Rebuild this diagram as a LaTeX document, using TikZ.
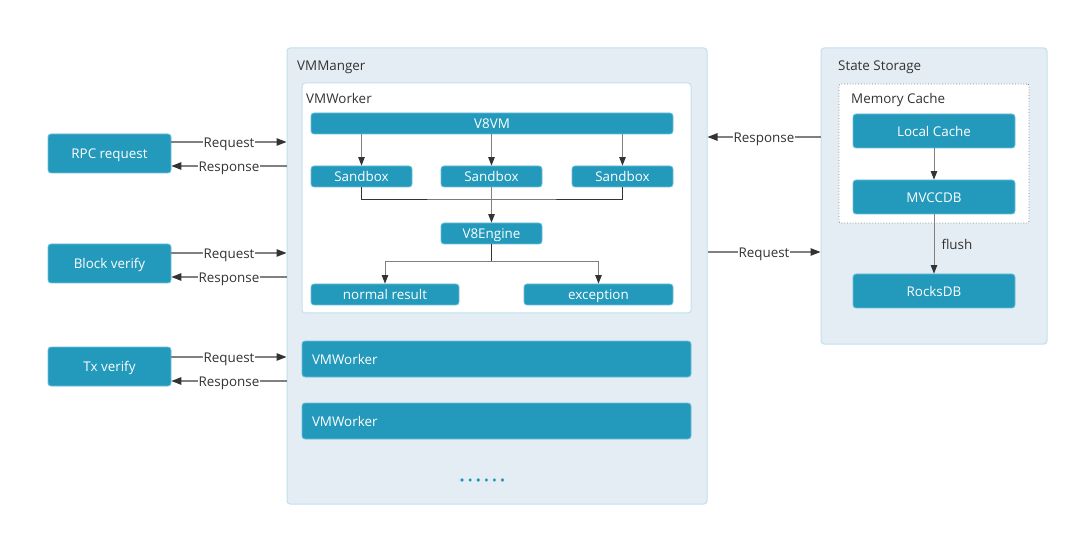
\documentclass[tikz,border=0pt]{standalone}
\usepackage{fontspec}
\setmainfont{Open Sans}
\usetikzlibrary{arrows.meta}
\definecolor{boxc}{HTML}{2399BB}
\definecolor{boxb}{HTML}{6CC0DC}
\definecolor{contf}{HTML}{E4EDF3}
\definecolor{contb}{HTML}{C3DFEC}
\definecolor{txt}{HTML}{333333}
\definecolor{ln}{HTML}{808080}
\begin{document}
\begin{tikzpicture}[x=1pt,y=-1pt, font=\fontsize{13.4}{16}\selectfont,
 every node/.style={text height=0.71em+3pt, text depth=0pt},
 bluebox/.style={draw=boxb, fill=boxc, text=white, rounded corners=3pt, inner sep=0pt, line width=0.8pt},
 cont/.style={draw=contb, fill=contf, rounded corners=3pt, line width=1pt, inner sep=0pt},
 arr/.style={draw=ln, line width=1.2pt, -{Triangle[length=10pt,width=7.5pt,color=txt,fill=txt]}},
 iarr/.style={draw=ln, line width=1pt, -{Triangle[length=8.5pt,width=6.5pt,color=txt,fill=txt]}},
 iline/.style={draw=txt, line width=0.8pt},
 lbl/.style={fill=white, text=txt, inner sep=1pt},
 title/.style={anchor=west, text=txt, inner sep=0pt}
]
\path[use as bounding box] (0,0) rectangle (1079,537);

% containers
\node[cont, minimum width=420pt, minimum height=456pt] (vmm) at (497,276) {};
\node[title] (vmmt) at (297,65.5) {VMManger};
\node[draw=contb, fill=white, rounded corners=3pt, line width=1pt, inner sep=0pt, minimum width=389pt, minimum height=230pt] (wk) at (496.5,198) {};
\node[title] (wkt) at (306,98.5) {VMWorker};

\node[cont, minimum width=226pt, minimum height=296pt] (ss) at (934,196) {};
\node[title] (sst) at (838,65.5) {State Storage};
\node[draw=gray, dotted, fill=white, rounded corners=2pt, line width=0.8pt, inner sep=0pt, minimum width=190pt, minimum height=139pt] (mc) at (934,153.5) {};
\node[title] (mct) at (851,98.5) {Memory Cache};

% left boxes
\node[bluebox, minimum width=123pt, minimum height=39pt] (rpc) at (109.5,153.5) {RPC request};
\node[bluebox, minimum width=123pt, minimum height=39pt] (blk) at (109.5,263.5) {Block verify};
\node[bluebox, minimum width=123pt, minimum height=39pt] (tx) at (109.5,366.5) {Tx verify};

% worker internals
\node[bluebox, minimum width=362pt, minimum height=21pt] (v8vm) at (492,123.5) {V8VM};
\node[bluebox, minimum width=101pt, minimum height=21pt] (sb1) at (361.5,176.5) {Sandbox};
\node[bluebox, minimum width=101pt, minimum height=21pt] (sb2) at (491.5,176.5) {Sandbox};
\node[bluebox, minimum width=101pt, minimum height=21pt] (sb3) at (622.5,176.5) {Sandbox};
\node[bluebox, minimum width=101pt, minimum height=21pt] (eng) at (491.5,233.5) {V8Engine};
\node[bluebox, minimum width=148pt, minimum height=21pt] (nr) at (385,294.5) {normal result};
\node[bluebox, minimum width=149pt, minimum height=21pt] (exc) at (598.5,294.5) {exception};

\node[bluebox, minimum width=389pt, minimum height=36pt, text width=369pt, align=left] (w2) at (496.5,359) {VMWorker};
\node[bluebox, minimum width=389pt, minimum height=36pt, text width=369pt, align=left] (w3) at (496.5,421) {VMWorker};

\foreach \i in {0,...,5} \fill[boxc] (462+8.1*\i,480) circle (1.8pt);

% storage
\node[bluebox, minimum width=162pt, minimum height=34pt] (lc) at (934,131) {Local Cache};
\node[bluebox, minimum width=162pt, minimum height=34pt] (mv) at (934,197) {MVCCDB};
\node[bluebox, minimum width=162pt, minimum height=34pt] (rk) at (934,291) {RocksDB};

% internal connectors
\draw[iarr] (v8vm.south -| sb1) -- (sb1.north);
\draw[iarr] (v8vm.south -| sb2) -- (sb2.north);
\draw[iarr] (v8vm.south -| sb3) -- (sb3.north);
\coordinate (j) at (491.5,199);
\draw[iline] (sb1.south) |- (j) -| (sb3.south);
\draw[iarr] (sb2.south) -- (eng.north);
\coordinate (b) at (491.5,262);
\draw[iline] (eng.south) -- (b);
\draw[iarr] (b) -| (nr.north);
\draw[iarr] (b) -| (exc.north);
\draw[iarr] (lc.south) -- (mv.north);
\draw[iarr] (mv.south) -- node[right, text=txt, inner sep=0pt, xshift=7pt] {flush} (rk.north);

% left connectors
\draw[arr] ([yshift=11.5pt]rpc.east) -- node[lbl] {Request} ([yshift=11.5pt]rpc.east -| vmm.west);
\draw[arr] ([yshift=-12.5pt]rpc.east -| vmm.west) -- node[lbl] {Response} ([yshift=-12.5pt]rpc.east);
\draw[arr] ([yshift=10.5pt]blk.east) -- node[lbl] {Request} ([yshift=10.5pt]blk.east -| vmm.west);
\draw[arr] ([yshift=-13.5pt]blk.east -| vmm.west) -- node[lbl] {Response} ([yshift=-13.5pt]blk.east);
\draw[arr] ([yshift=9.5pt]tx.east) -- node[lbl] {Request} ([yshift=9.5pt]tx.east -| vmm.west);
\draw[arr] ([yshift=-14.5pt]tx.east -| vmm.west) -- node[lbl] {Response} ([yshift=-14.5pt]tx.east);

% right connectors
\draw[arr] ([yshift=59pt]ss.west) -- node[lbl] {Response} ([yshift=59pt]ss.west -| vmm.east);
\draw[arr] ([yshift=-56pt]ss.west -| vmm.east) -- node[lbl] {Request} ([yshift=-56pt]ss.west);
\end{tikzpicture}
\end{document}
